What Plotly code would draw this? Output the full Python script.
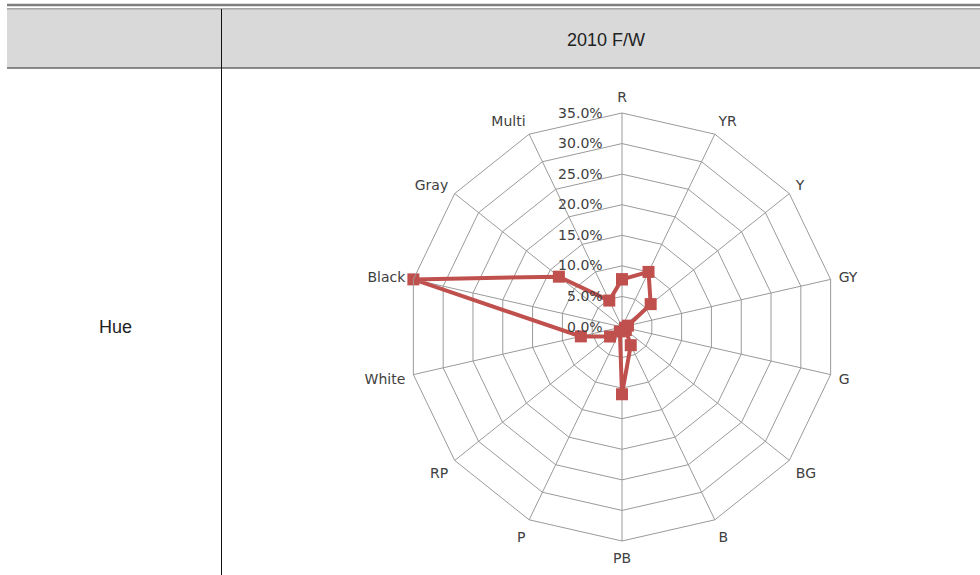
import plotly.graph_objects as go

categories = ["R", "YR", "Y", "GY", "G", "BG", "B", "PB", "P", "RP",
              "White", "Black", "Gray", "Multi"]
values = [0.078, 0.100, 0.060, 0.010, 0.005, 0.008, 0.033, 0.110, 0.008,
          0.025, 0.069, 0.350, 0.132, 0.048]
radial_ticks = [0.0, 0.05, 0.10, 0.15, 0.20, 0.25, 0.30, 0.35]
header_text = "2010 F/W"
row_text = "Hue"

W, H = 980, 575


def px(x):
    return x / W


def py(y):
    return 1 - y / H


fig = go.Figure()
fig.add_trace(go.Scatterpolar(
    r=values + values[:1],
    theta=categories + categories[:1],
    mode="lines+markers",
    line=dict(color="#c0504d", width=4),
    marker=dict(symbol="square", size=12, color="#c0504d"),
    showlegend=False,
    hoverinfo="skip",
))

cx, cy, R = 622, 327, 214
fig.update_layout(
    width=W, height=H,
    margin=dict(l=0, r=0, t=0, b=0),
    paper_bgcolor="white",
    plot_bgcolor="white",
    polar=dict(
        domain=dict(x=[px(cx - R), px(cx + R)], y=[py(cy + R), py(cy - R)]),
        gridshape="linear",
        bgcolor="white",
        angularaxis=dict(
            rotation=90, direction="clockwise",
            categoryorder="array", categoryarray=categories,
            showline=True, linecolor="#9a9a9a", linewidth=1,
            gridcolor="#9a9a9a", gridwidth=1,
            ticks="outside", ticklen=5, tickcolor="rgba(0,0,0,0)",
            tickfont=dict(family="DejaVu Sans", size=14, color="#404040"),
        ),
        radialaxis=dict(
            range=[0, 0.35], tickvals=radial_ticks, tickformat=".1%",
            angle=90, tickangle=90, side="counterclockwise",
            showline=False, gridcolor="#9a9a9a", gridwidth=1,
            ticks="outside", ticklen=14, tickcolor="rgba(0,0,0,0)",
            tickfont=dict(family="DejaVu Sans", size=14, color="#404040"),
        ),
    ),
    shapes=[
        dict(type="rect", xref="paper", yref="paper",
             x0=px(7), x1=px(980), y0=py(68), y1=py(9),
             fillcolor="#d9d9d9", line=dict(width=0), layer="below"),
        dict(type="line", xref="paper", yref="paper",
             x0=px(7), x1=px(980), y0=py(5), y1=py(5),
             line=dict(color="#7f7f7f", width=2.5)),
        dict(type="line", xref="paper", yref="paper",
             x0=px(7), x1=px(980), y0=py(8.8), y1=py(8.8),
             line=dict(color="#7f7f7f", width=1)),
        dict(type="line", xref="paper", yref="paper",
             x0=px(7), x1=px(980), y0=py(68), y1=py(68),
             line=dict(color="#666666", width=1.5)),
        dict(type="line", xref="paper", yref="paper",
             x0=px(221.5), x1=px(221.5), y0=py(9), y1=py(575),
             line=dict(color="#111111", width=1)),
    ],
    annotations=[
        dict(text=header_text, xref="paper", yref="paper",
             x=px(606), y=py(40), xanchor="center", yanchor="middle",
             showarrow=False,
             font=dict(family="Liberation Sans", size=18, color="#222222")),
        dict(text=row_text, xref="paper", yref="paper",
             x=px(115), y=py(327), xanchor="center", yanchor="middle",
             showarrow=False,
             font=dict(family="Liberation Sans", size=18, color="#222222")),
    ],
)

fig.write_html("out.html")
